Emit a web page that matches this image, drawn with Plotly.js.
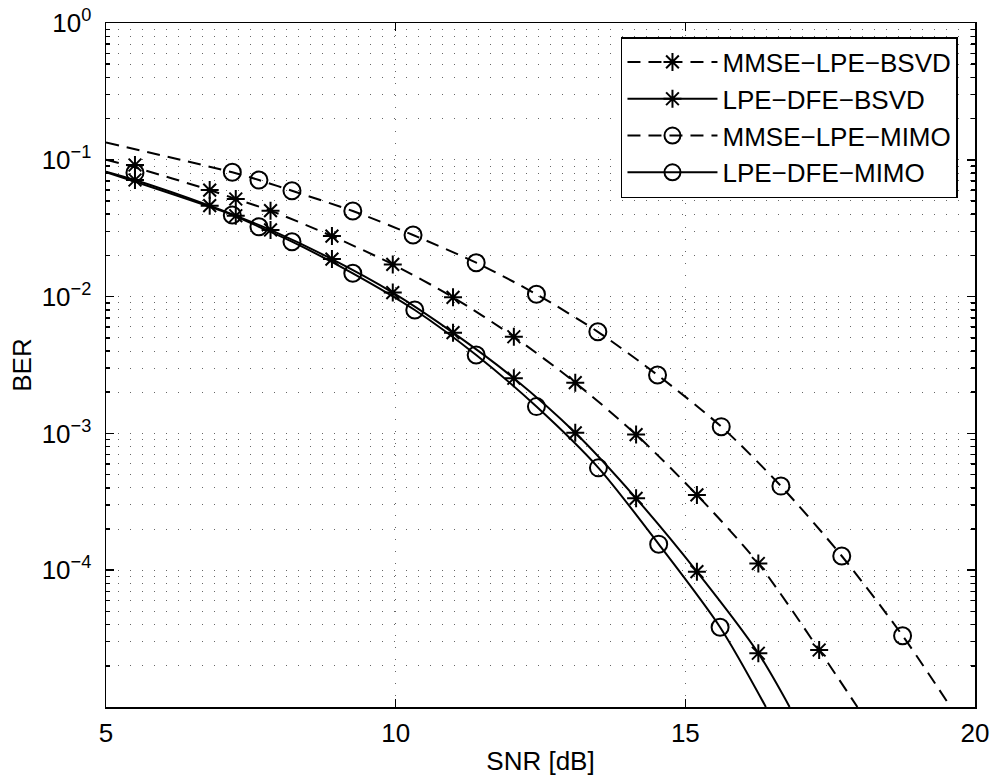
<!DOCTYPE html>
<html>
<head>
<meta charset="utf-8">
<script src="https://cdn.plot.ly/plotly-3.0.1.min.js"></script>
<style>html,body{margin:0;padding:0;background:#fff;}#chart{width:995px;height:783px;}</style>
</head>
<body>
<div id="chart"></div>
<script>
// ---- Data ----
const seriesNames = ['MMSE\u2212LPE\u2212BSVD', 'LPE\u2212DFE\u2212BSVD', 'MMSE\u2212LPE\u2212MIMO', 'LPE\u2212DFE\u2212MIMO'];

// Curves (SNR in dB, BER)
const mmseBsvdLineX = [5, 5.5, 6.79, 7.24, 7.84, 8.9, 9.95, 10.99, 12.04, 13.1, 14.15, 15.2, 16.26, 17.31, 17.97];
const mmseBsvdLineY = [0.100, 0.088, 0.0601, 0.0517, 0.0425, 0.0277, 0.0172, 0.00988, 0.00509, 0.00235, 0.00098, 0.000355, 0.000112, 2.61e-5, 1e-5];
const dfeBsvdLineX = [5, 5.5, 6.79, 7.24, 7.84, 8.9, 9.95, 10.99, 12.04, 13.1, 14.15, 15.2, 16.26, 16.8];
const dfeBsvdLineY = [0.082, 0.0712, 0.0462, 0.039, 0.0307, 0.0188, 0.0107, 0.00545, 0.00253, 0.00101, 0.000335, 9.75e-5, 2.47e-5, 1e-5];
const mmseMimoLineX = [5, 7.18, 7.64, 8.21, 9.26, 10.3, 11.39, 12.43, 13.49, 14.52, 15.62, 16.65, 17.7, 18.75, 19.58];
const mmseMimoLineY = [0.134, 0.081, 0.0711, 0.0594, 0.0422, 0.0282, 0.0177, 0.0104, 0.00553, 0.00267, 0.00112, 0.000412, 0.000127, 3.32e-5, 1e-5];
const dfeMimoLineX = [5, 7.18, 7.64, 8.21, 9.26, 10.33, 11.39, 12.43, 13.5, 14.54, 15.6, 16.39];
const dfeMimoLineY = [0.081, 0.0395, 0.0324, 0.0252, 0.0148, 0.00798, 0.00374, 0.00157, 0.00056, 0.000155, 3.83e-5, 1e-5];

// Markers
const mmseBsvdMarkX = [5.5, 6.79, 7.24, 7.84, 8.9, 9.95, 10.99, 12.04, 13.1, 14.15, 15.2, 16.26, 17.31];
const mmseBsvdMarkY = [0.0916, 0.0601, 0.0517, 0.0425, 0.0277, 0.0172, 0.00988, 0.00509, 0.00235, 0.00098, 0.000355, 0.000112, 2.61e-5];
const dfeBsvdMarkX = [5.5, 6.79, 7.24, 7.84, 8.9, 9.95, 10.99, 12.04, 13.1, 14.15, 15.2, 16.26];
const dfeBsvdMarkY = [0.0712, 0.0462, 0.039, 0.0307, 0.0188, 0.0107, 0.00545, 0.00253, 0.00101, 0.000335, 9.75e-5, 2.47e-5];
const mmseMimoMarkX = [7.18, 7.64, 8.21, 9.26, 10.3, 11.39, 12.43, 13.49, 14.52, 15.62, 16.65, 17.7, 18.75];
const mmseMimoMarkY = [0.081, 0.0711, 0.0594, 0.0422, 0.0282, 0.0177, 0.0104, 0.00553, 0.00267, 0.00112, 0.000412, 0.000127, 3.32e-5];
const dfeMimoMarkX = [5.5, 7.18, 7.64, 8.21, 9.26, 10.33, 11.39, 12.43, 13.5, 14.54, 15.6];
const dfeMimoMarkY = [0.0805, 0.0395, 0.0324, 0.0252, 0.0148, 0.00798, 0.00374, 0.00157, 0.00056, 0.000155, 3.83e-5];

// Tick labels
const xTickVals = [5, 10, 15, 20];
const xTickText = ['5', '10', '15', '20'];
const yTickVals = [1, 0.1, 0.01, 0.001, 0.0001];
const yTickText = ['10<sup>0</sup>', '10<sup>\u22121</sup>', '10<sup>\u22122</sup>', '10<sup>\u22123</sup>', '10<sup>\u22124</sup>'];

// ---- Styles ----
const FONT = 'Liberation Sans, Arial, Helvetica, sans-serif';
const FS = 26;
const DASH = '13px,8px';
const styles = [
  {dash: DASH, symbol: 'asterisk-open', size: 15},
  {dash: 'solid', symbol: 'asterisk-open', size: 15},
  {dash: DASH, symbol: 'circle-open', size: 17},
  {dash: 'solid', symbol: 'circle-open', size: 17}
];
const lines = [[mmseBsvdLineX, mmseBsvdLineY], [dfeBsvdLineX, dfeBsvdLineY], [mmseMimoLineX, mmseMimoLineY], [dfeMimoLineX, dfeMimoLineY]];
const marks = [[mmseBsvdMarkX, mmseBsvdMarkY], [dfeBsvdMarkX, dfeBsvdMarkY], [mmseMimoMarkX, mmseMimoMarkY], [dfeMimoMarkX, dfeMimoMarkY]];

const traces = [];
for (let i = 0; i < 4; i++) {
  traces.push({
    x: lines[i][0], y: lines[i][1], type: 'scatter', mode: 'lines',
    line: {color: '#000', width: 2, dash: styles[i].dash, shape: 'spline', smoothing: 0.8},
    showlegend: false, hoverinfo: 'skip'
  });
  traces.push({
    x: marks[i][0], y: marks[i][1], type: 'scatter', mode: 'markers',
    marker: {color: '#000', symbol: styles[i].symbol, size: styles[i].size, line: {color: '#000', width: 2}},
    showlegend: false
  });
}
// legend entries
for (let i = 0; i < 4; i++) {
  traces.push({
    x: [null], y: [null], type: 'scatter', mode: 'lines+markers', name: seriesNames[i],
    line: {color: '#000', width: 2, dash: styles[i].dash},
    marker: {color: '#000', symbol: styles[i].symbol, size: styles[i].size, line: {color: '#000', width: 2}}
  });
}

const gridStyle = {gridcolor: '#666', gridwidth: 1, griddash: '1px,11px'};

const layout = {
  width: 995, height: 783,
  margin: {l: 106, r: 20, t: 23, b: 76},
  paper_bgcolor: '#fff', plot_bgcolor: '#fff',
  font: {family: FONT, size: FS, color: '#000'},
  showlegend: true,
  legend: {
    x: 0.5926, y: 0.9795, xanchor: 'left', yanchor: 'top',
    bgcolor: '#fff', bordercolor: '#000', borderwidth: 1.5,
    font: {family: FONT, size: FS, color: '#000'},
    itemwidth: 90, tracegroupgap: 0
  },
  xaxis: {
    range: [5, 20], type: 'linear',
    tickmode: 'array', tickvals: xTickVals, ticktext: xTickText,
    ticks: 'inside', ticklen: 8, tickwidth: 1.5, tickcolor: '#000',
    showline: true, linecolor: '#000', linewidth: 1.5, mirror: 'allticks',
    showgrid: true, ...gridStyle, zeroline: false,
    tickfont: {family: FONT, size: FS, color: '#000'},
    ticklabelstandoff: 2,
    title: {text: 'SNR [dB]', font: {family: FONT, size: FS, color: '#000'}, standoff: 5}
  },
  yaxis: {
    range: [-5, 0], type: 'log',
    tickmode: 'array', tickvals: yTickVals, ticktext: yTickText,
    ticks: 'inside', ticklen: 8, tickwidth: 1.5, tickcolor: '#000',
    showline: true, linecolor: '#000', linewidth: 1.5, mirror: 'allticks',
    showgrid: true, ...gridStyle, zeroline: false,
    tickfont: {family: FONT, size: FS, color: '#000'},
    ticklabelstandoff: 8,
    minor: {dtick: 'D1', ticks: 'inside', ticklen: 4, tickwidth: 1.5, tickcolor: '#000', showgrid: true, ...gridStyle},
    title: {text: 'BER', font: {family: FONT, size: FS, color: '#000'}, standoff: 2}
  }
};

Plotly.newPlot('chart', traces, layout, {displayModeBar: false, staticPlot: true});
</script>
</body>
</html>
